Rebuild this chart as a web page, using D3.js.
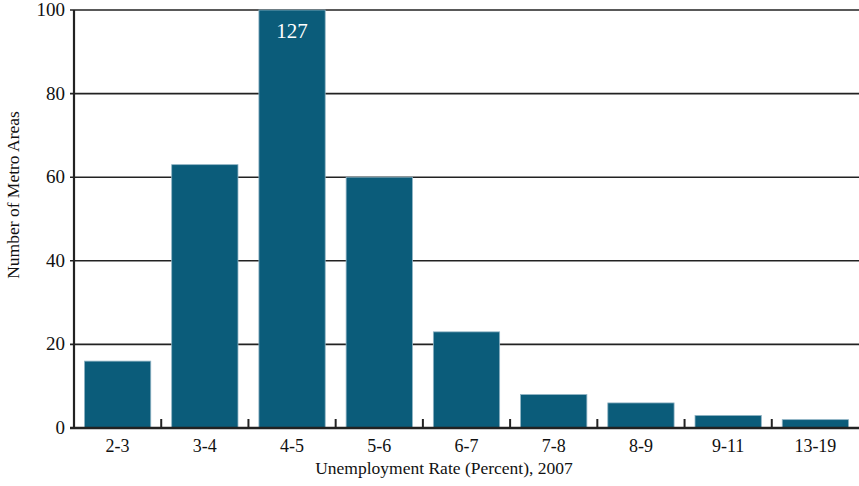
<!DOCTYPE html>
<html>
<head>
<meta charset="utf-8">
<script src="https://cdn.jsdelivr.net/npm/d3@7"></script>
<style>
  body { margin: 0; background: #fff; }
  text { font-family: "Liberation Serif", "DejaVu Serif", serif; fill: #111; }
</style>
</head>
<body>
<svg id="chart" width="859" height="486"></svg>
<script>
// data
let categories = ["2-3", "3-4", "4-5", "5-6", "6-7", "7-8", "8-9", "9-11", "13-19"];
let metroCounts = [16, 63, 127, 60, 23, 8, 6, 3, 2];
let yTicks = [0, 20, 40, 60, 80, 100];

//------------------------------------------------------------------------------
//Chart
//------------------------------------------------------------------------------
drawChart()

function drawChart()
{
    var svg = d3.select("#chart"),
        margin = {top: 10, right: 0, bottom: 58, left: 74},
        width = +svg.attr("width") - margin.left - margin.right,
        height = +svg.attr("height") - margin.top - margin.bottom,
        g = svg.append("g").attr("transform", "translate(" + margin.left + "," + margin.top + ")");

    var x = d3.scaleBand().domain(categories).range([0, width]).paddingInner(0.24).paddingOuter(0.12);
    var xEdge = d3.scaleBand().domain(categories).range([0, width]);
    // y axis stops at 100, the 4-5 bar runs off the top
    var y = d3.scaleLinear().domain([0, 100]).range([height, 0]).clamp(true);

    // gridlines
    g.selectAll(".grid")
        .data(yTicks)
        .enter()
        .append("line")
        .attr("x1", -4)
        .attr("x2", width)
        .attr("y1", d => y(d))
        .attr("y2", d => y(d))
        .attr("stroke", "#222")
        .attr("stroke-width", 1.6);

    // bars
    g.selectAll(".bar")
        .data(metroCounts)
        .enter()
        .append("rect")
        .attr("x", (d, i) => x(categories[i]))
        .attr("width", x.bandwidth())
        .attr("y", d => y(d))
        .attr("height", d => height - y(d))
        .attr("fill", "#0b5c7a")
        .attr("stroke", "#8fb3c4")
        .attr("stroke-width", 0.8);

    // value for the clipped bar
    metroCounts.forEach((d, i) => {
        if (d > 100) {
            g.append("text")
                .attr("x", x(categories[i]) + x.bandwidth() / 2)
                .attr("y", y(100) + 28)
                .attr("text-anchor", "middle")
                .style("fill", "#fff")
                .style("font-size", "21px")
                .text(d);
        }
    });

    // axis lines
    g.append("line").attr("x1", 0).attr("x2", 0).attr("y1", 0).attr("y2", height)
        .attr("stroke", "#222").attr("stroke-width", 2.2);
    g.append("line").attr("x1", -4).attr("x2", width).attr("y1", height).attr("y2", height)
        .attr("stroke", "#222").attr("stroke-width", 2.4);

    // category separator ticks
    g.selectAll(".sep")
        .data(categories.slice(1))
        .enter()
        .append("line")
        .attr("x1", d => xEdge(d))
        .attr("x2", d => xEdge(d))
        .attr("y1", height)
        .attr("y2", height - 9)
        .attr("stroke", "#222")
        .attr("stroke-width", 2);

    // y tick labels
    g.selectAll(".ylab")
        .data(yTicks)
        .enter()
        .append("text")
        .attr("x", -9)
        .attr("y", d => y(d) + 6)
        .attr("text-anchor", "end")
        .style("font-size", "19px")
        .text(d => d);

    // x tick labels
    g.selectAll(".xlab")
        .data(categories)
        .enter()
        .append("text")
        .attr("x", d => xEdge(d) + xEdge.bandwidth() / 2)
        .attr("y", height + 24)
        .attr("text-anchor", "middle")
        .style("font-size", "18px")
        .text(d => d);

    // axis titles
    svg.append("text")
        .attr("x", 444)
        .attr("y", 474)
        .attr("text-anchor", "middle")
        .style("font-size", "17.5px")
        .text("Unemployment Rate (Percent), 2007");

    svg.append("text")
        .attr("transform", "translate(19,195) rotate(-90)")
        .attr("text-anchor", "middle")
        .style("font-size", "17.5px")
        .text("Number of Metro Areas");
}
</script>
</body>
</html>
